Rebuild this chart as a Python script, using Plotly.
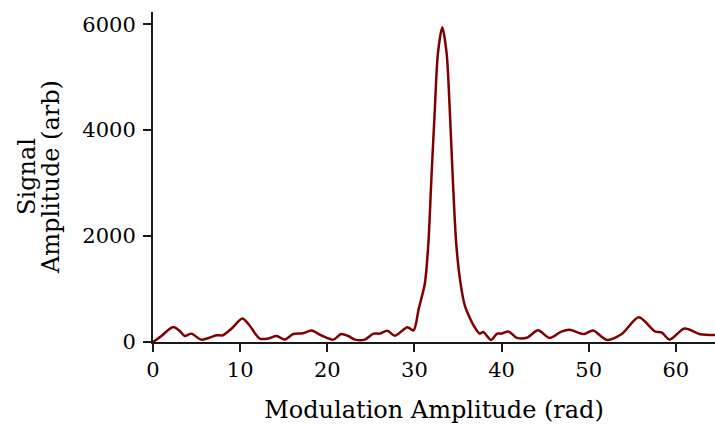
import plotly.graph_objects as go

# Signal amplitude versus modulation amplitude
modulation_rad = [
    0.0, 1.0, 2.3, 3.0, 3.64, 4.4, 5.55, 7.3, 8.0, 9.0, 10.26, 11.0,
    12.25, 13.2, 14.2, 15.1, 16.1, 17.2, 18.2, 19.3, 20.7, 21.6, 22.4,
    23.2, 24.3, 25.3, 26.0, 26.9, 27.75, 29.2, 29.9, 30.5, 31.2, 31.6,
    31.96, 32.34, 32.7, 33.2, 33.7, 34.06, 34.4, 34.8, 35.3, 35.8, 36.4,
    36.9, 37.5, 37.9, 38.8, 39.5, 40.0, 40.8, 41.7, 42.9, 44.2, 45.5,
    46.8, 47.8, 49.4, 50.5, 52.1, 53.8, 55.75, 57.6, 58.4, 59.3, 61.0,
    62.8, 64.5,
]
signal_arb = [
    0, 120, 283, 220, 113, 158, 45, 127, 127, 250, 442, 330,
    64, 64, 113, 45, 150, 165, 215, 127, 45, 150, 113,
    45, 45, 158, 158, 212, 118, 280, 218, 630, 1103, 1858,
    3116, 4376, 5447, 5940, 5447, 4376, 3116, 1858, 1103, 680, 440,
    283, 158, 189, 40, 158, 158, 200, 83, 80, 220, 76,
    190, 230, 150, 215, 40, 150, 465, 202, 175, 45, 253,
    145, 130,
]

x_ticks = [0, 10, 20, 30, 40, 50, 60]
y_ticks = [0, 2000, 4000, 6000]
y_title_lines = ["Signal", "Amplitude (arb)"]

font_family = "DejaVu Serif"

fig = go.Figure(
    go.Scatter(
        x=modulation_rad,
        y=signal_arb,
        mode="lines",
        line=dict(color="#800000", width=2.5, shape="spline", smoothing=0.8),
        hoverinfo="skip",
    )
)

axis_common = dict(
    showgrid=False,
    zeroline=False,
    showline=True,
    linecolor="#1a1a1a",
    linewidth=2,
    ticks="outside",
    ticklen=8,
    tickwidth=2,
    tickcolor="#1a1a1a",
    tickfont=dict(family=font_family, size=21, color="black"),
)

plot_left, plot_width = 153, 562

fig.update_layout(
    width=715,
    height=425,
    margin=dict(l=plot_left, r=0, t=12, b=83),
    paper_bgcolor="white",
    plot_bgcolor="white",
    showlegend=False,
    font=dict(family=font_family, size=21, color="black"),
    xaxis=dict(
        range=[0, 64.5],
        tickvals=x_ticks,
        title=dict(text="Modulation Amplitude (rad)", standoff=20,
                   font=dict(family=font_family, size=24)),
        **axis_common,
    ),
    yaxis=dict(
        range=[0, 6230],
        tickvals=y_ticks,
        ticklabelstandoff=3,
        **axis_common,
    ),
)

# Two-line rotated y-axis title with tight line spacing
for px_center, line_text in zip([27, 51], y_title_lines):
    fig.add_annotation(
        text=line_text,
        textangle=-90,
        xref="paper", yref="paper",
        x=(px_center - plot_left) / plot_width, y=0.5,
        xanchor="center", yanchor="middle",
        showarrow=False,
        font=dict(family=font_family, size=24, color="black"),
    )

fig.write_html("out.html")
